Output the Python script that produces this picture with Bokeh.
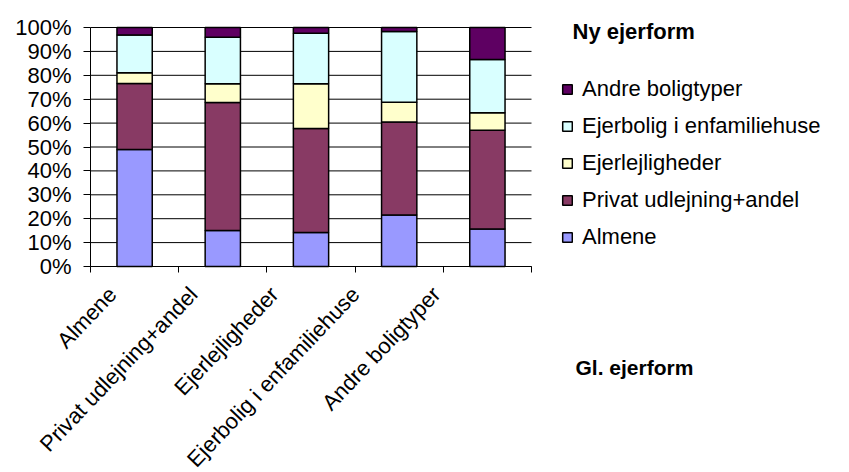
from bokeh.plotting import figure
from bokeh.models import (Range1d, FixedTicker, NumeralTickFormatter, Legend, LegendItem,
                          ColumnDataSource, Label, LinearAxis)
from bokeh.embed import file_html
from bokeh.resources import INLINE
import math

categories = ["Almene", "Privat udlejning+andel", "Ejerlejligheder",
              "Ejerbolig i enfamiliehuse", "Andre boligtyper"]
series_names = ["Almene", "Privat udlejning+andel", "Ejerlejligheder",
                "Ejerbolig i enfamiliehuse", "Andre boligtyper"]
almene = [0.490, 0.151, 0.142, 0.215, 0.157]
privat = [0.276, 0.535, 0.435, 0.390, 0.413]
ejerlejl = [0.045, 0.079, 0.188, 0.082, 0.073]
ejerbolig = [0.158, 0.194, 0.211, 0.296, 0.223]
andre = [0.031, 0.041, 0.024, 0.017, 0.134]
colors = ["#9999FF", "#883A64", "#FFFFCC", "#D9FFFF", "#5E0062"]
y_ticks = [i / 10 for i in range(11)]
legend_title = "Ny ejerform"
axis_title = "Gl. ejerform"

FONT = "Liberation Sans"
W, H = 849, 472
# plot area in canvas pixels
PL, PR, PT, PB = 90, 531, 27, 266
n = len(categories)
xs_px = (PR - PL) / n
ys_px = (PB - PT) / 1.0

xs = [i + 0.5 for i in range(n)]
src = ColumnDataSource(dict(x=xs, Almene=almene, Privat=privat, Ejerlejl=ejerlejl,
                            Ejerbolig=ejerbolig, Andre=andre))
keys = ["Almene", "Privat", "Ejerlejl", "Ejerbolig", "Andre"]

p = figure(width=W, height=H, output_backend="svg", toolbar_location=None,
           x_range=Range1d(-PL / xs_px, n + (W - PR) / xs_px),
           y_range=Range1d(-(H - PB) / ys_px, 1 + PT / ys_px),
           min_border=0, x_axis_type=None, y_axis_type=None)
p.outline_line_color = None
p.xgrid.grid_line_color = None
p.ygrid.grid_line_color = None

# horizontal gridlines spanning the category area
p.segment(x0=[0] * len(y_ticks), x1=[n] * len(y_ticks), y0=y_ticks, y1=y_ticks,
          line_color="black", line_width=1)

renderers = p.vbar_stack(keys, x="x", width=0.4, source=src, fill_color=colors,
                         line_color="black", line_width=1.5)

# y axis
yax = LinearAxis(ticker=FixedTicker(ticks=y_ticks), formatter=NumeralTickFormatter(format="0%"),
                 fixed_location=0, bounds=(0, 1))
yax.major_tick_out = 7
yax.major_tick_in = 0
yax.minor_tick_out = 0
yax.minor_tick_in = 0
yax.axis_line_color = "black"
yax.major_tick_line_color = "black"
yax.major_label_text_font = FONT
yax.major_label_text_font_size = "22px"
yax.major_label_text_color = "black"
yax.major_label_standoff = 12
p.add_layout(yax, "left")

# x axis: boundaries as minor ticks; rotated labels slightly left of category centers
label_pos = [0.25 + 0.918 * i for i in range(n)]
xax = LinearAxis(ticker=FixedTicker(ticks=label_pos, minor_ticks=list(range(n + 1))),
                 fixed_location=0, bounds=(0, n))
xax.major_label_overrides = {v: c for v, c in zip(label_pos, categories)}
xax.major_tick_out = 0
xax.major_tick_in = 0
xax.minor_tick_out = 6
xax.minor_tick_in = 0
xax.minor_tick_line_color = "black"
xax.axis_line_color = "black"
xax.major_label_orientation = 0.81
xax.major_label_text_font = FONT
xax.major_label_text_font_size = "22px"
xax.major_label_text_color = "black"
xax.major_label_standoff = 18
p.add_layout(xax, "below")

items = [LegendItem(label=series_names[i], renderers=[renderers[i]]) for i in reversed(range(5))]
legend = Legend(items=items, location=(561, H - 250))
legend.glyph_width = 12
legend.glyph_height = 12
legend.label_height = 20
legend.spacing = 11
legend.label_standoff = 9
legend.padding = 0
legend.margin = 0
legend.border_line_color = None
legend.background_fill_alpha = 0
legend.label_text_font = FONT
legend.label_text_font_size = "22px"
legend.label_text_color = "black"
p.add_layout(legend, "center")

p.add_layout(Label(x=572, y=H - 31, x_units="screen", y_units="screen", text=legend_title,
                   text_font=FONT, text_font_size="22px", text_font_style="bold",
                   text_color="black", text_baseline="alphabetic"))
p.add_layout(Label(x=575, y=H - 367, x_units="screen", y_units="screen", text=axis_title,
                   text_font=FONT, text_font_size="21px", text_font_style="bold",
                   text_color="black", text_baseline="alphabetic"))

open("out.html", "w").write(file_html(p, INLINE))
